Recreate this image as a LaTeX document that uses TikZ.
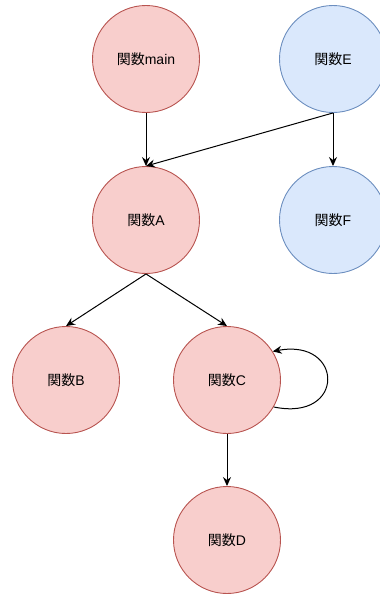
\documentclass[tikz,border=0pt]{standalone}
\usepackage{fontspec}
\setmainfont{Liberation Sans}
\newfontfamily\cjk{Noto Sans CJK JP}
\usetikzlibrary{arrows.meta}
\definecolor{rfill}{HTML}{F8CECC}
\definecolor{rdraw}{HTML}{B85450}
\definecolor{bfill}{HTML}{DAE8FC}
\definecolor{bdraw}{HTML}{6C8EBF}
\tikzset{
  fn/.style={circle, minimum size=107pt, inner sep=0pt, line width=0.9pt, font=\fontsize{14pt}{16pt}\selectfont},
  redfn/.style={fn, fill=rfill, draw=rdraw},
  bluefn/.style={fn, fill=bfill, draw=bdraw},
  conn/.style={line width=1pt, -{Stealth[length=9pt,width=8pt,inset=3pt]}}
}
\newcommand{\kan}{{\cjk 関数}}
\begin{document}
\begin{tikzpicture}[x=1pt,y=-1pt]
\useasboundingbox (0,0) rectangle (380,597);
\node[redfn] (main) at (146,59) {\kan main};
\node[bluefn] (E) at (333,59) {\kan E};
\node[redfn] (A) at (146,220) {\kan A};
\node[bluefn] (F) at (333,220) {\kan F};
\node[redfn] (B) at (66,380) {\kan B};
\node[redfn] (C) at (227,380) {\kan C};
\node[redfn] (D) at (227,540) {\kan D};
\draw[conn] (main.south) -- (A.north);
\draw[conn] (E.south) -- (A.north);
\draw[conn] (E.south) -- (F.north);
\draw[conn] (A.south) -- (B.north);
\draw[conn] (A.south) -- (C.north);
\draw[conn] (C.south) -- (D.north);
\draw[conn] (C.-30) .. controls (346,422) and (344,338) .. (C.32);
\end{tikzpicture}
\end{document}
